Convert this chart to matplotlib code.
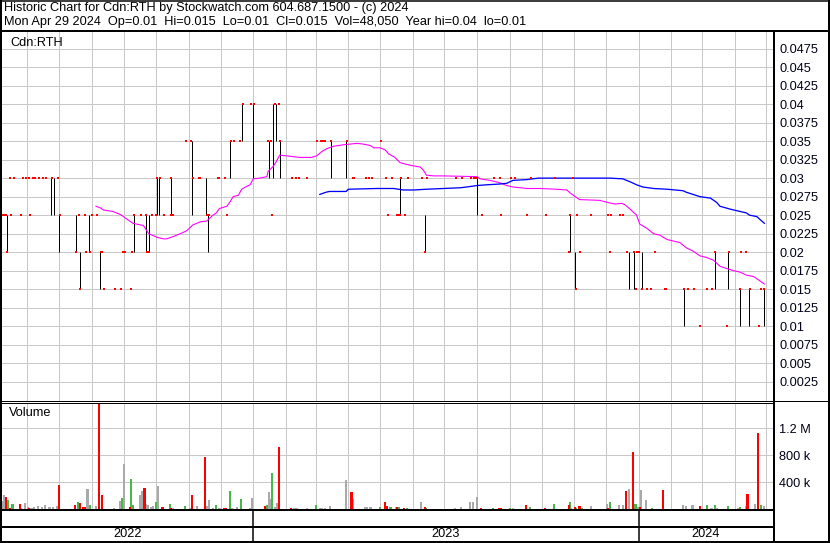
import matplotlib
matplotlib.use("Agg")
import matplotlib.pyplot as plt
import matplotlib.dates as mdates
from matplotlib.lines import Line2D
import pandas as pd

plt.rcParams['font.family'] = ['Liberation Sans', 'DejaVu Sans']

# day 0 of the chart, every day value below counts calendar days from here
START = pd.Timestamp('2022-05-09')
END_DAY = 729.2

title_1 = "Historic Chart for Cdn:RTH by Stockwatch.com 604.687.1500 - (c) 2024"
title_2 = ("Mon Apr 29 2024  Op=0.01  Hi=0.015  Lo=0.01  Cl=0.015  "
           "Vol=48,050  Year hi=0.04  lo=0.01")
symbol = "Cdn:RTH"

# days with a high/low range
bar_day = [4, 45, 48, 53, 69, 73, 81, 92, 124, 135, 138, 146, 148, 159, 179,
           192, 194, 215, 226, 237, 252, 256, 259, 262, 311, 325, 376, 400,
           449, 537, 542, 593, 598, 605, 645, 674, 687, 698, 706, 721]
bar_hi = [.025, .03, .03, .025, .025, .02, .025, .02, .025, .025, .025, .03,
          .03, .03, .035, .03, .025, .035, .04, .04, .035, .04, .04, .035,
          .035, .035, .03, .025, .03, .025, .02, .02, .02, .02, .015, .02,
          .02, .015, .015, .015]
bar_lo = [.02, .025, .025, .02, .02, .015, .02, .015, .02, .02, .02, .025,
          .025, .025, .025, .025, .02, .03, .035, .03, .03, .03, .035, .03,
          .03, .03, .025, .02, .025, .02, .015, .015, .015, .015, .01, .015,
          .015, .01, .01, .01]

# closing ticks, grouped by price
close_040 = [227, 235, 238, 258, 261]
close_035 = [173, 178, 216, 219, 224, 251, 254, 262, 297, 301, 303, 305, 311,
             326, 358]
close_030 = [7, 10, 19, 22, 25, 28, 30, 34, 38, 41, 46, 52, 146, 149, 159,
             180, 186, 187, 204, 205, 210, 274, 277, 280, 288, 331, 332, 344,
             347, 349, 363, 368, 377, 384, 397, 402, 429, 435, 443, 446, 448,
             449, 465, 471, 481, 485, 500, 523, 540]
close_025 = [0, 2, 3, 8, 17, 26, 54, 72, 78, 84, 89, 124, 131, 135, 141, 145,
             152, 159, 161, 193, 195, 212, 255, 365, 373, 374, 376, 381, 454,
             472, 496, 514, 537, 544, 557, 573, 576, 584, 587]
close_020 = [4, 69, 79, 82, 93, 94, 114, 116, 122, 136, 138, 400, 536, 546,
             575, 591, 598, 600, 602, 617, 674, 688, 699, 704]
close_015 = [73, 96, 106, 112, 121, 543, 599, 605, 610, 614, 627, 628, 645,
             649, 654, 667, 671, 698, 707, 718, 721]
close_010 = [660, 686, 716]

# short moving average (magenta)
ma_fast_day = [88, 92, 95, 104, 111, 117, 123, 133, 138, 146, 152, 155, 161,
               168, 174, 180, 187, 193, 198, 202, 205, 212, 215, 218, 223,
               226, 231, 234, 237, 243, 250, 251, 256, 259, 262, 269, 275,
               281, 292, 297, 302, 307, 313, 322, 329, 335, 341, 348, 351,
               357, 362, 365, 371, 376, 381, 387, 395, 398, 401, 408, 417,
               449, 452, 461, 470, 477, 483, 490, 496, 509, 524, 534, 537,
               542, 546, 565, 573, 580, 586, 589, 594, 600, 603, 610, 616,
               622, 629, 635, 641, 647, 654, 660, 666, 673, 679, 685, 692,
               698, 704, 711, 717, 721]
ma_fast = [.0262, .026, .0257, .0255, .0251, .0245, .0239, .0236, .0225, .022,
           .0218, .0218, .0221, .0225, .0229, .0237, .0241, .0242, .0249,
           .0253, .0259, .0262, .0268, .0275, .0277, .0285, .0289, .0291,
           .0299, .030, .0302, .0309, .0316, .0323, .0331, .033, .0329, .0328,
           .0328, .033, .0336, .034, .0343, .0345, .0346, .0347, .0346, .0344,
           .0341, .0341, .0338, .0333, .0328, .0321, .0319, .0317, .0315,
           .0311, .0304, .0303, .0303, .0302, .0299, .0297, .0294, .029,
           .0288, .0287, .0286, .0286, .0285, .0284, .028, .0275, .0271,
           .027, .0267, .0265, .0266, .0264, .0258, .025, .0238, .0232,
           .0225, .0223, .0217, .0215, .0213, .0206, .0201, .0195, .0193,
           .0189, .0181, .0178, .0175, .0173, .0169, .0167, .0161, .0157]

# long moving average (blue)
ma_slow_day = [300, 306, 309, 325, 327, 354, 370, 379, 389, 401, 433, 439,
               449, 458, 470, 477, 483, 496, 507, 546, 575, 587, 594, 600,
               606, 616, 629, 644, 647, 660, 670, 676, 679, 689, 698, 704,
               707, 714, 717, 721]
ma_slow = [.0278, .0281, .0282, .0282, .0285, .0286, .0286, .0284, .0284,
           .0285, .0287, .0288, .029, .0291, .0292, .0293, .0297, .0298, .030,
           .030, .030, .0299, .0295, .0291, .0288, .0286, .0285, .0283, .0281,
           .0275, .0273, .0267, .0262, .0258, .0255, .0253, .025, .0248,
           .0244, .0239]

# daily volume in thousands of shares, by direction of the close
vol_down = {3: 174, 7: 20, 16: 74, 25: 20, 53: 357, 68: 60, 73: 89, 76: 30,
            78: 30, 91: 1800, 94: 208, 120: 30, 134: 312, 151: 30, 159: 15,
            179: 208, 191: 774, 209: 15, 211: 15, 248: 45, 261: 922, 273: 15,
            330: 253, 362: 104, 364: 45, 373: 30, 380: 15, 400: 30, 453: 15,
            470: 15, 472: 15, 495: 60, 513: 15, 536: 60, 542: 30, 546: 45,
            573: 15, 590: 268, 597: 848, 603: 30, 625: 283, 660: 45, 705: 223,
            715: 1131}
vol_up = {5: 134, 9: 74, 71: 104, 82: 60, 113: 164, 121: 446, 123: 60,
          145: 104, 158: 74, 172: 45, 202: 60, 215: 268, 225: 149, 250: 60,
          255: 536, 296: 60, 357: 30, 367: 30, 375: 30, 383: 15, 401: 15,
          464: 15, 480: 15, 499: 30, 522: 74, 537: 104, 543: 15, 548: 15,
          575: 104, 599: 74, 615: 15, 667: 60, 674: 60, 687: 45, 698: 30,
          718: 60}
vol_flat = {0: 119, 1: 208, 17: 20, 21: 84, 24: 25, 27: 20, 29: 30, 33: 45,
            37: 30, 40: 60, 44: 30, 47: 30, 51: 45, 80: 298, 88: 45, 105: 15,
            111: 119, 115: 669, 130: 208, 132: 268, 135: 80, 137: 60, 140: 30,
            142: 45, 147: 342, 161: 15, 177: 15, 184: 45, 193: 45, 195: 134,
            199: 15, 205: 15, 217: 15, 222: 30, 234: 15, 236: 164, 252: 253,
            253: 149, 258: 30, 260: 89, 276: 15, 278: 15, 288: 15, 300: 15,
            302: 15, 305: 15, 310: 45, 325: 426, 331: 149, 343: 30, 345: 30,
            348: 30, 372: 30, 396: 104, 428: 15, 434: 30, 442: 104, 445: 104,
            449: 179, 483: 15, 538: 15, 557: 45, 572: 74, 583: 60, 587: 60,
            593: 298, 601: 30, 604: 283, 609: 134, 644: 60, 647: 45, 653: 60,
            671: 15, 676: 15, 696: 15, 704: 45, 712: 74, 721: 48}

price_ticks = [i * 0.0025 for i in range(1, 20)]
vol_ticks = [400000, 800000, 1200000]
vol_labels = ['400 k', '800 k', '1.2 M']
years = [2022, 2023, 2024]

W, H = 830, 543
GRID = '#c8c8c8'
PX = 0.72  # one pixel in points at 100 dpi
FS = 9.2


def to_num(days):
    return mdates.date2num(START + pd.to_timedelta(list(days), unit='D'))


def box(x0, y0, x1, y1):
    return [x0 / W, 1 - y1 / H, (x1 - x0) / W, (y1 - y0) / H]


def hline(fig, y, x0, x1, lw):
    fig.add_artist(Line2D([x0 / W, x1 / W], [1 - y / H, 1 - y / H],
                          transform=fig.transFigure, color='black', lw=lw * PX))


def vline(fig, x, y0, y1, lw):
    fig.add_artist(Line2D([x / W, x / W], [1 - y0 / H, 1 - y1 / H],
                          transform=fig.transFigure, color='black', lw=lw * PX))


xlim = to_num([-0.95, END_DAY])

fig = plt.figure(figsize=(W / 100, H / 100), dpi=100)
fig.patch.set_facecolor('white')

ax_p = fig.add_axes(box(2, 31, 773, 401))
ax_v = fig.add_axes(box(2, 403, 773, 509))
ax_t = fig.add_axes(box(2, 510, 773, 541))

for ax in (ax_p, ax_v):
    ax.set_xlim(xlim)
    ax.xaxis_date()
    ax.xaxis.set_major_locator(mdates.MonthLocator())
    ax.tick_params(axis='x', length=0, labelbottom=False)
    ax.yaxis.tick_right()
    ax.tick_params(axis='y', length=0, pad=4.5, labelsize=FS, labelcolor='#000018')
    ax.grid(True, color=GRID, lw=PX)
    ax.set_axisbelow(True)
    for s in ax.spines.values():
        s.set_visible(False)

# price panel
ax_p.set_ylim(-0.0001, 0.04987)
ax_p.set_yticks(price_ticks)
ax_p.set_yticklabels(['{:g}'.format(round(t, 4)) for t in price_ticks])
ax_p.vlines(to_num(bar_day), bar_lo, bar_hi, color='black', lw=PX)
for level, days in [(0.04, close_040), (0.035, close_035), (0.03, close_030),
                    (0.025, close_025), (0.02, close_020), (0.015, close_015),
                    (0.01, close_010)]:
    ax_p.plot(to_num(days), [level] * len(days), ls='none', marker='s',
              ms=2.0, mew=0, color='red', zorder=3, antialiased=False)
ax_p.plot(to_num(ma_fast_day), ma_fast, color='#ff00ff', lw=1.1 * PX)
ax_p.plot(to_num(ma_slow_day), ma_slow, color='#0000ff', lw=1.3 * PX)
ax_p.text(8 / 771, 1 - 11.5 / 370, symbol, transform=ax_p.transAxes,
          fontsize=FS, va='center', ha='left')

# volume panel
ax_v.set_ylim(0, 1576000)
ax_v.set_yticks(vol_ticks)
ax_v.set_yticklabels(vol_labels)
for vols, col in [(vol_flat, '#a9a9a9'), (vol_up, '#48b848'), (vol_down, '#ff0000')]:
    ax_v.bar(to_num(vols.keys()), [v * 1000 for v in vols.values()],
             width=2.0, color=col, lw=0, antialiased=False)
ax_v.text(7 / 771, 1 - 10.5 / 106, 'Volume', transform=ax_v.transAxes,
          fontsize=FS, va='center', ha='left')

# year strip
ax_t.set_xlim(xlim)
ax_t.set_ylim(0, 1)
ax_t.axis('off')
for yr in years:
    a = max(mdates.date2num(pd.Timestamp(f'{yr}-01-01')), xlim[0])
    b = min(mdates.date2num(pd.Timestamp(f'{yr + 1}-01-01')), xlim[1])
    ax_t.text((a + b) / 2, 0.24, str(yr), ha='center', va='center', fontsize=FS)
    if yr > years[0]:
        ax_t.axvline(a, color='black', lw=1.5 * PX)

# frame lines
hline(fig, 0.5, 0, W, 1.5)
hline(fig, 542, 0, W, 2)
vline(fig, 1, 0, H, 2)
vline(fig, 829, 0, H, 2)
hline(fig, 30.8, 0, W, 2)
vline(fig, 774, 31, H, 2)
hline(fig, 401, 0, W, 1)
hline(fig, 403, 0, 774, 1)
hline(fig, 509.8, 0, 774, 2)
hline(fig, 526.6, 0, 774, 2)

fig.text(4 / W, 1 - 8.5 / H, title_1, fontsize=FS, va='center', ha='left')
fig.text(4 / W, 1 - 22 / H, title_2, fontsize=FS, va='center', ha='left')

fig.savefig('out.png', dpi=100)
